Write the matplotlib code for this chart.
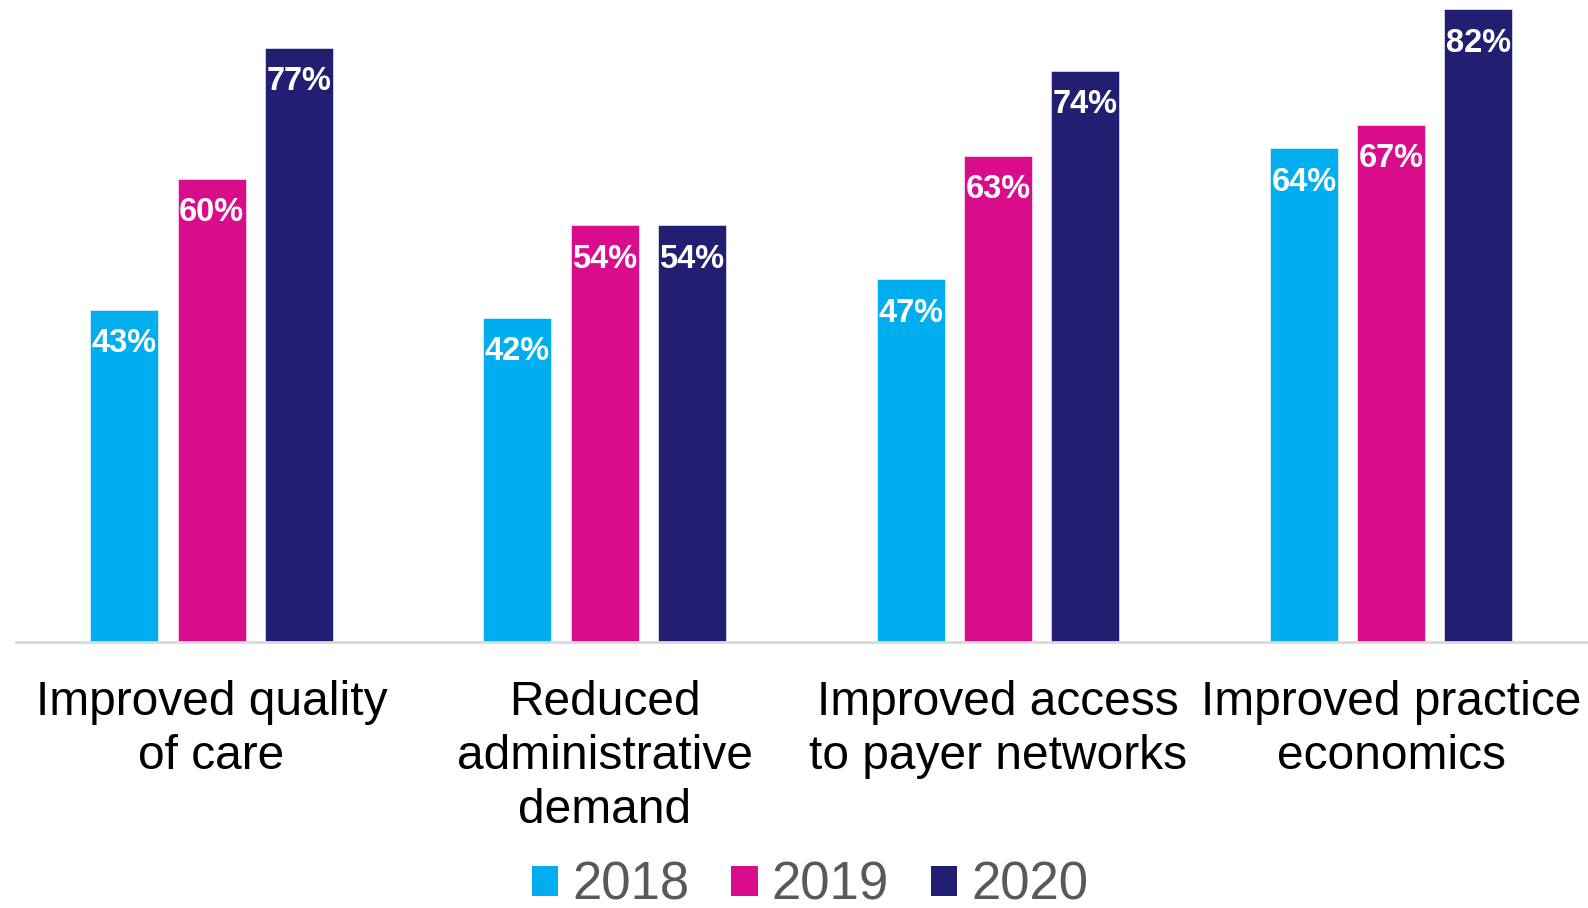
import matplotlib.pyplot as plt
import numpy as np
from matplotlib.patches import Patch

plt.rcParams["font.family"] = ["Liberation Sans", "DejaVu Sans"]

categories = [
    "Improved quality\nof care",
    "Reduced\nadministrative\ndemand",
    "Improved access\nto payer networks",
    "Improved practice\neconomics",
]
years = ["2018", "2019", "2020"]
values_2018 = [43, 42, 47, 64]
values_2019 = [60, 54, 63, 67]
values_2020 = [77, 54, 74, 82]

COLORS = ["#00AEEF", "#D90C8C", "#221F72"]
AXIS = "#D9D9D9"
LEGEND_TEXT = "#595959"

fig = plt.figure(figsize=(15.88, 9.08), dpi=100, facecolor="white")
ax = fig.add_axes([15.7 / 1588, (908 - 641.5) / 908, 1572.8 / 1588, 641.5 / 908])

x = np.arange(len(categories))
pitch = 0.222
width = 0.173
series = [values_2018, values_2019, values_2020]

for i, (vals, color) in enumerate(zip(series, COLORS)):
    xs = x + (i - 1) * pitch
    ax.bar(xs, vals, width=width, color=color, edgecolor="white", linewidth=0.4, zorder=2)
    for bx, v in zip(xs, vals):
        ax.annotate(f"{v}%", (bx, v), xytext=(0, -34), textcoords="offset pixels",
                    ha="center", va="center", color="white", fontsize=23.5,
                    fontweight="bold", zorder=3)

ax.set_xlim(-0.498, 3.502)
ax.set_ylim(0, 83.2)
for side in ["top", "right", "left"]:
    ax.spines[side].set_visible(False)
ax.spines["bottom"].set_color(AXIS)
ax.spines["bottom"].set_linewidth(2)
ax.set_yticks([])
ax.set_xticks(x)
ax.set_xticklabels(categories, fontsize=34.5, linespacing=1.25, color="black")
ax.tick_params(axis="x", length=0, pad=28)

handles = [Patch(facecolor=c, edgecolor="none") for c in COLORS]
leg = fig.legend(handles, years, loc="center", bbox_to_anchor=(810 / 1588, 1 - 886 / 908),
                 ncol=3, frameon=False, fontsize=38, handlelength=0.5, handleheight=0.5,
                 handletextpad=0.26, columnspacing=0.8, borderaxespad=0, borderpad=0)
for t in leg.get_texts():
    t.set_color(LEGEND_TEXT)

fig.savefig("out.png", dpi=100, facecolor="white")
plt.close(fig)
